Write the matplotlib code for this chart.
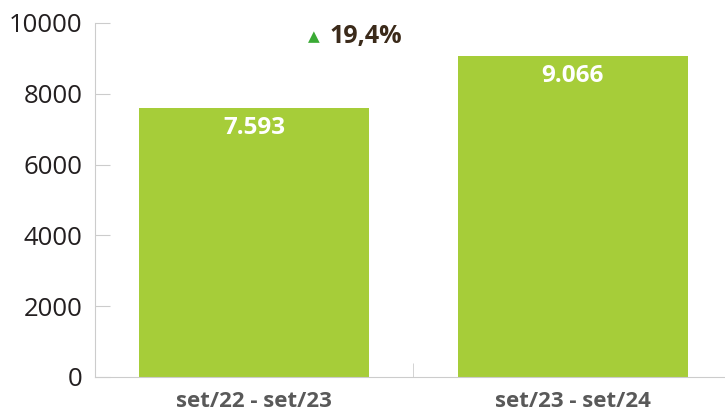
import matplotlib.pyplot as plt
from matplotlib.ticker import FixedLocator

# data
categories = ['set/22 - set/23', 'set/23 - set/24']
values = [7593, 9066]
value_labels = ['7.593', '9.066']
change_label = '19,4%'
yticks = [0, 2000, 4000, 6000, 8000, 10000]

bar_color = '#a6cd39'
axis_color = '#cccccc'

fig = plt.figure(figsize=(7.25, 4.17), dpi=100)
ax = fig.add_axes([0.131, 0.096, 0.869, 0.849])

x = list(range(len(categories)))
ax.bar(x, values, width=0.722, color=bar_color, zorder=2)

ax.set_ylim(0, 10000)
ax.set_xlim(-0.5, 1.478)

for s in ['top', 'right']:
    ax.spines[s].set_visible(False)
ax.spines['left'].set_color(axis_color)
ax.spines['bottom'].set_color(axis_color)

ax.set_yticks(yticks)
ax.set_yticklabels([str(t) for t in yticks], fontsize=18.5, color='#231f20',
                   family='Open Sans')
ax.tick_params(axis='y', direction='in', length=11, color=axis_color, pad=9)

ax.set_xticks(x)
ax.set_xticklabels(categories, fontsize=16, fontweight='bold', color='#595959',
                   family='Open Sans')
ax.tick_params(axis='x', length=0, pad=10)
ax.xaxis.set_minor_locator(FixedLocator([0.5]))
ax.tick_params(axis='x', which='minor', direction='in', length=10, color=axis_color)

# value labels inside bars
for xi, v, lab in zip(x, values, value_labels):
    ax.text(xi, v - 220, lab, ha='center', va='top', color='white',
            fontsize=17.5, fontweight='bold', family='Open Sans')

# change annotation
ax.text(0.205, 9620, '\u25b2', ha='right', va='center', color='#3aaa35',
        fontsize=11, family='DejaVu Sans')
ax.text(0.235, 9620, change_label, ha='left', va='center', color='#3b2a1a',
        fontsize=18, fontweight='bold', family='Open Sans')

fig.savefig('out.png', dpi=100)
